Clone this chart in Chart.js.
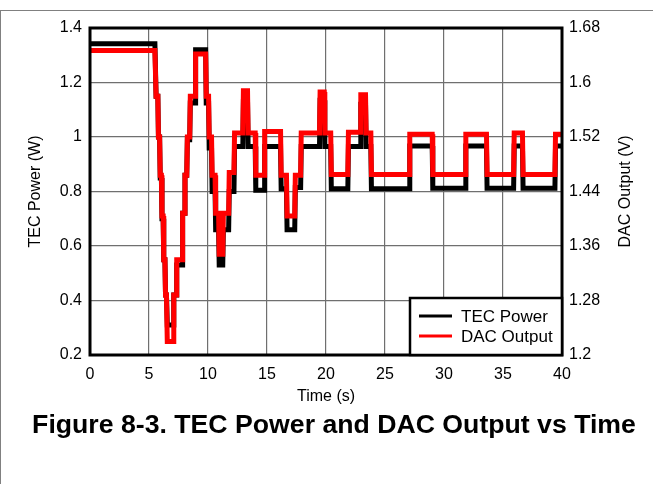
<!DOCTYPE html>
<html>
<head>
<meta charset="utf-8">
<title>TEC Power and DAC Output vs Time</title>
<script src="https://cdn.jsdelivr.net/npm/chart.js@4.4.1/dist/chart.umd.min.js"></script>
<style>
  html, body { margin: 0; padding: 0; background: #fff; }
  #wrap { position: relative; width: 653px; height: 484px; overflow: hidden; }
  #wrap canvas { position: absolute; left: 0; top: 0; }
  #frame {
    position: absolute; left: 0; top: 10px; right: 0; bottom: 0;
    border-top: 1px solid #808080; border-left: 1px solid #808080;
    pointer-events: none;
  }
</style>
</head>
<body>
<div id="wrap">
  <canvas id="tecChart" width="653" height="484"></canvas>
  <div id="frame"></div>
</div>
<script>
// time (s) of each breakpoint
const timeS = [
  0, 5.5, 5.6, 5.75, 5.8, 5.9, 5.95, 6.05, 6.1, 6.2, 6.25, 6.35, 6.4, 6.48, 6.55, 7.05,
  7.1, 7.3, 7.35, 7.8, 7.85, 8.0, 8.05, 8.2, 8.25, 8.45, 8.5, 8.9, 8.95, 9.8,
  9.85, 10.05, 10.1, 10.3, 10.35, 10.6, 10.65, 10.9, 10.95, 11.25, 11.3, 11.75,
  11.8, 12.2, 12.25, 12.95, 13.0, 13.35, 13.4, 14.0, 14.05, 14.75, 14.8, 16.15,
  16.2, 16.65, 16.7, 17.35, 17.4, 17.85, 17.9, 19.45, 19.5, 19.85, 19.9, 20.4,
  20.45, 21.85, 21.9, 22.9, 22.95, 23.35, 23.4, 23.8, 23.85, 27.05, 27.1, 29.0,
  29.05, 31.8, 31.85, 33.6, 33.65, 35.9, 35.95, 36.65, 36.7, 39.4, 39.45, 40
];

// TEC power (W), left axis
const tecPower = [
  1.342, 1.342, 1.15, 1.15, 1.0, 1.0, 0.85, 0.85, 0.70, 0.70, 0.55, 0.55, 0.42, 0.42, 0.31, 0.31,
  0.42, 0.42, 0.53, 0.53, 0.72, 0.72, 0.86, 0.86, 0.99, 0.99, 1.125, 1.125, 1.32, 1.32,
  1.125, 1.125, 0.96, 0.96, 0.80, 0.80, 0.66, 0.66, 0.53, 0.53, 0.66, 0.66,
  0.80, 0.80, 0.965, 0.965, 1.13, 1.13, 0.965, 0.965, 0.805, 0.805, 0.965, 0.965,
  0.81, 0.81, 0.66, 0.66, 0.815, 0.815, 0.965, 0.965, 1.135, 1.135, 0.965, 0.965,
  0.81, 0.81, 0.965, 0.965, 1.12, 1.12, 0.965, 0.965, 0.81, 0.81, 0.967, 0.967,
  0.812, 0.812, 0.967, 0.967, 0.812, 0.812, 0.967, 0.967, 0.812, 0.812, 0.967, 0.967
];

// DAC output (V), right axis
const dacOutput = [
  1.647, 1.647, 1.58, 1.58, 1.52, 1.52, 1.464, 1.464, 1.404, 1.404, 1.34, 1.34, 1.288, 1.288, 1.22, 1.22,
  1.288, 1.288, 1.34, 1.34, 1.408, 1.408, 1.464, 1.464, 1.52, 1.52, 1.58, 1.58, 1.642, 1.642,
  1.58, 1.58, 1.52, 1.52, 1.464, 1.464, 1.408, 1.408, 1.348, 1.348, 1.408, 1.408,
  1.468, 1.468, 1.526, 1.526, 1.588, 1.588, 1.526, 1.526, 1.464, 1.464, 1.528, 1.528,
  1.464, 1.464, 1.404, 1.404, 1.464, 1.464, 1.526, 1.526, 1.586, 1.586, 1.526, 1.526,
  1.465, 1.465, 1.527, 1.527, 1.582, 1.582, 1.526, 1.526, 1.465, 1.465, 1.524, 1.524,
  1.465, 1.465, 1.524, 1.524, 1.465, 1.465, 1.526, 1.526, 1.465, 1.465, 1.524, 1.524
];

const xTicks = [0, 5, 10, 15, 20, 25, 30, 35, 40];
const powerTicks = [0.2, 0.4, 0.6, 0.8, 1.0, 1.2, 1.4];
const dacTicks = [1.2, 1.28, 1.36, 1.44, 1.52, 1.6, 1.68];

const FONT = "'Liberation Sans', Arial, sans-serif";
const tickFont = { family: FONT, size: 16 };
const titleFont = { family: FONT, size: 16 };
const fmt = v => String(+v.toFixed(2));

// thick plot border, legend box inside the plot, right axis title, figure caption
const framePlugin = {
  id: 'framePlugin',
  afterDatasetsDraw(chart) {
    const { ctx, chartArea: a } = chart;
    ctx.save();
    ctx.strokeStyle = '#000';
    ctx.lineWidth = 3;
    ctx.strokeRect(a.left, a.top, a.right - a.left, a.bottom - a.top);

    // legend
    const bx = 410, by = 298, bw = a.right - bx, bh = a.bottom - by;
    ctx.fillStyle = '#fff';
    ctx.fillRect(bx, by, bw, bh);
    ctx.lineWidth = 2.5;
    ctx.strokeRect(bx, by, bw, bh);
    ctx.font = '17px ' + FONT;
    ctx.textBaseline = 'middle';
    chart.data.datasets.forEach((ds, i) => {
      const y = 316 + i * 20;
      ctx.strokeStyle = ds.borderColor;
      ctx.lineWidth = 3;
      ctx.beginPath();
      ctx.moveTo(419, y);
      ctx.lineTo(452, y);
      ctx.stroke();
      ctx.fillStyle = '#000';
      ctx.fillText(ds.label, 461, y + 1);
    });
    ctx.restore();
  },
  afterDraw(chart) {
    const { ctx, chartArea: a } = chart;
    ctx.save();
    // right axis title reads bottom to top, like the left one
    ctx.translate(626, (a.top + a.bottom) / 2);
    ctx.rotate(-Math.PI / 2);
    ctx.font = '16px ' + FONT;
    ctx.fillStyle = '#000';
    ctx.textAlign = 'center';
    ctx.textBaseline = 'middle';
    ctx.fillText('DAC Output (V)', 0, 0);
    ctx.restore();

    const caption = 'Figure 8-3. TEC Power and DAC Output vs Time';
    ctx.save();
    let size = 26;
    ctx.font = 'bold ' + size + 'px ' + FONT;
    const w = ctx.measureText(caption).width;
    size = size * 604 / w;
    ctx.font = 'bold ' + size.toFixed(2) + 'px ' + FONT;
    ctx.fillStyle = '#000';
    ctx.textAlign = 'center';
    ctx.textBaseline = 'alphabetic';
    ctx.fillText(caption, 334, 433);
    ctx.restore();
  }
};

new Chart(document.getElementById('tecChart'), {
  type: 'line',
  data: {
    datasets: [
      {
        label: 'TEC Power',
        data: timeS.map((t, i) => ({ x: t, y: tecPower[i] })),
        yAxisID: 'y',
        borderColor: '#000000',
        borderWidth: 5,
        pointRadius: 0,
        tension: 0,
        order: 1
      },
      {
        label: 'DAC Output',
        data: timeS.map((t, i) => ({ x: t, y: dacOutput[i] })),
        yAxisID: 'y1',
        borderColor: '#ff0000',
        borderWidth: 5,
        pointRadius: 0,
        tension: 0,
        order: 0
      }
    ]
  },
  options: {
    responsive: false,
    animation: false,
    events: [],
    layout: { padding: { top: 28, left: 0, right: 0, bottom: 78 } },
    plugins: {
      legend: { display: false },
      tooltip: { enabled: false }
    },
    scales: {
      x: {
        type: 'linear',
        min: 0,
        max: 40,
        afterBuildTicks: s => { s.ticks = xTicks.map(v => ({ value: v })); },
        afterFit: s => { s.height = 51; },
        grid: { color: '#6f6f6f', lineWidth: 1.2, drawTicks: false },
        border: { display: false },
        ticks: { color: '#000', font: tickFont, padding: 10, maxRotation: 0, callback: v => fmt(v) },
        title: { display: true, text: 'Time (s)', color: '#000', font: titleFont, padding: { top: 0, bottom: 0 } }
      },
      y: {
        position: 'left',
        min: 0.2,
        max: 1.4,
        afterBuildTicks: s => { s.ticks = powerTicks.map(v => ({ value: v })); },
        afterFit: s => { s.width = 90; },
        grid: { color: '#6f6f6f', lineWidth: 1.2, drawTicks: false },
        border: { display: false },
        ticks: { color: '#000', font: tickFont, padding: 8, callback: v => fmt(v) },
        title: { display: true, text: 'TEC Power (W)', color: '#000', font: titleFont, padding: { top: 26, bottom: 0 } }
      },
      y1: {
        position: 'right',
        min: 1.2,
        max: 1.68,
        afterBuildTicks: s => { s.ticks = dacTicks.map(v => ({ value: v })); },
        afterFit: s => { s.width = 91; },
        grid: { display: false, drawTicks: false },
        border: { display: false },
        ticks: { color: '#000', font: tickFont, padding: 7, callback: v => fmt(v) },
        title: { display: false }
      }
    }
  },
  plugins: [framePlugin]
});
</script>
</body>
</html>
